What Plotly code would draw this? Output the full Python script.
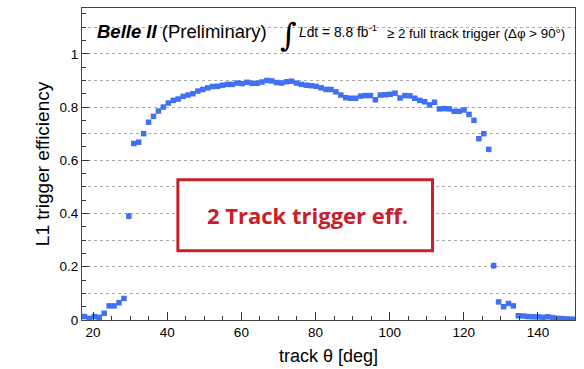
import plotly.graph_objects as go

# bin centres of track theta [deg] (100 bins, 17-150 deg)
theta = [
    17.67, 19.00, 20.33, 21.66, 22.99, 24.32, 25.65, 26.98, 28.31, 29.64,
    30.97, 32.30, 33.63, 34.96, 36.29, 37.62, 38.95, 40.28, 41.61, 42.94,
    44.27, 45.60, 46.93, 48.26, 49.59, 50.92, 52.25, 53.58, 54.91, 56.24,
    57.57, 58.90, 60.23, 61.56, 62.89, 64.22, 65.55, 66.88, 68.21, 69.54,
    70.87, 72.20, 73.53, 74.86, 76.19, 77.52, 78.85, 80.18, 81.51, 82.84,
    84.17, 85.50, 86.83, 88.16, 89.49, 90.82, 92.15, 93.48, 94.81, 96.14,
    97.47, 98.80, 100.13, 101.46, 102.79, 104.12, 105.45, 106.78, 108.11, 109.44,
    110.77, 112.10, 113.43, 114.76, 116.09, 117.42, 118.75, 120.08, 121.41, 122.74,
    124.07, 125.40, 126.73, 128.06, 129.39, 130.72, 132.05, 133.38, 134.71, 136.04,
    137.37, 138.70, 140.03, 141.36, 142.69, 144.02, 145.35, 146.68, 148.01, 149.34,
]

efficiency = [
    0.013, 0.006, 0.013, 0.010, 0.025, 0.053, 0.053, 0.065, 0.081, 0.390,
    0.663, 0.668, 0.700, 0.743, 0.765, 0.785, 0.800, 0.815, 0.825, 0.830,
    0.840, 0.845, 0.850, 0.860, 0.866, 0.872, 0.877, 0.878, 0.882, 0.885,
    0.885, 0.890, 0.888, 0.893, 0.889, 0.889, 0.894, 0.900, 0.898, 0.892,
    0.890, 0.895, 0.897, 0.890, 0.885, 0.882, 0.880, 0.878, 0.872, 0.866,
    0.866, 0.857, 0.845, 0.835, 0.833, 0.833, 0.841, 0.843, 0.843, 0.827,
    0.845, 0.846, 0.848, 0.852, 0.834, 0.843, 0.842, 0.833, 0.825, 0.820,
    0.808, 0.818, 0.793, 0.794, 0.793, 0.784, 0.784, 0.789, 0.772, 0.750,
    0.681, 0.700, 0.641, 0.204, 0.068, 0.050, 0.062, 0.053, 0.016, 0.015,
    0.013, 0.012, 0.012, 0.010, 0.012, 0.009, 0.006, 0.005, 0.004, 0.003,
]

eff_error = [
    0.003, 0.002, 0.003, 0.003, 0.004, 0.005, 0.005, 0.005, 0.006, 0.012,
    0.008, 0.007, 0.006, 0.005, 0.004, 0.004, 0.003, 0.003, 0.003, 0.003,
    0.003, 0.003, 0.003, 0.003, 0.003, 0.003, 0.003, 0.003, 0.003, 0.003,
    0.003, 0.003, 0.003, 0.003, 0.003, 0.003, 0.003, 0.003, 0.003, 0.003,
    0.003, 0.003, 0.003, 0.003, 0.003, 0.003, 0.003, 0.003, 0.003, 0.003,
    0.003, 0.003, 0.003, 0.003, 0.003, 0.003, 0.003, 0.003, 0.003, 0.003,
    0.003, 0.003, 0.003, 0.003, 0.003, 0.003, 0.003, 0.003, 0.003, 0.003,
    0.003, 0.003, 0.003, 0.003, 0.003, 0.003, 0.003, 0.003, 0.004, 0.005,
    0.006, 0.006, 0.008, 0.012, 0.006, 0.005, 0.005, 0.005, 0.003, 0.003,
    0.003, 0.003, 0.003, 0.002, 0.002, 0.002, 0.002, 0.002, 0.002, 0.002,
]

X_RANGE = [17, 150]
Y_RANGE = [0, 1.172]

BLUE = "#3f71f2"
RED = "#c8202a"
FONT = "Liberation Sans, Arial, sans-serif"

fig = go.Figure()
fig.add_trace(go.Scatter(
    x=theta, y=efficiency,
    mode="markers",
    marker=dict(symbol="square", size=5.5, color=BLUE, line=dict(width=0)),
    error_y=dict(type="data", array=eff_error, color=BLUE, thickness=1.5, width=0),
    showlegend=False, hoverinfo="x+y",
))
# invisible companion trace so the overlaid grid axis (y2) is drawn
fig.add_trace(go.Scatter(
    x=theta[:1], y=efficiency[:1], yaxis="y2", mode="markers",
    marker=dict(opacity=0), showlegend=False, hoverinfo="skip",
))

# red highlight box
fig.add_shape(type="rect", xref="paper", yref="paper",
              x0=0.1945, x1=0.711, y0=0.222, y1=0.4496,
              line=dict(color=RED, width=3), fillcolor="white", layer="above")

annotations = [
    dict(text="2 Track trigger eff.", x=0.458, y=0.335, xref="paper", yref="paper",
         showarrow=False, xanchor="center", yanchor="middle",
         font=dict(family="Open Sans, Lato, sans-serif", size=22, color=RED, weight="bold")),
    dict(text="<b><i>Belle II</i></b> (Preliminary)", x=0.026, y=0.925,
         xref="paper", yref="paper", showarrow=False, xanchor="left", yanchor="middle",
         font=dict(family=FONT, size=18.5, color="black")),
    dict(text="∫", x=0.398, y=0.915, xref="paper", yref="paper", showarrow=False,
         xanchor="left", yanchor="middle",
         font=dict(family="DejaVu Serif, serif", size=32, color="black")),
    dict(text="<i>L</i>dt = 8.8 fb<sup>-1</sup>", x=0.436, y=0.925,
         xref="paper", yref="paper", showarrow=False, xanchor="left", yanchor="middle",
         font=dict(family=FONT, size=13.8, color="black")),
    dict(text="≥ 2 full track trigger (Δφ > 90°)", x=0.614, y=0.918,
         xref="paper", yref="paper", showarrow=False, xanchor="left", yanchor="middle",
         font=dict(family=FONT, size=13.3, color="black")),
]

fig.update_layout(
    width=584, height=369,
    margin=dict(l=82, r=8.5, t=6.5, b=47.3),
    paper_bgcolor="white", plot_bgcolor="white",
    font=dict(family=FONT, size=13, color="black"),
    annotations=annotations,
    xaxis=dict(
        range=X_RANGE,
        tickmode="linear", tick0=0, dtick=20,
        ticks="inside", ticklen=8, tickcolor="#333", tickwidth=1,
        minor=dict(dtick=5, tick0=0, ticks="inside", ticklen=4, tickcolor="#333", showgrid=False),
        showgrid=False, zeroline=False,
        showline=True, linecolor="#444", linewidth=1.2, mirror=True,
        title=dict(text="track θ [deg]", font=dict(size=18, family=FONT), standoff=10),
        tickfont=dict(size=13.5),
    ),
    yaxis=dict(
        range=Y_RANGE,
        tickmode="linear", tick0=0, dtick=0.2,
        ticks="inside", ticklen=7, tickcolor="#333",
        minor=dict(dtick=0.05, tick0=0, ticks="inside", ticklen=4, tickcolor="#333", showgrid=False),
        showgrid=False, zeroline=False,
        showline=True, linecolor="#444", linewidth=1.2, mirror=True,
        title=dict(text="L1 trigger efficiency", font=dict(size=19, family=FONT), standoff=4),
        tickfont=dict(size=13.5),
    ),
    yaxis2=dict(
        range=Y_RANGE, overlaying="y", side="left",
        tickmode="linear", tick0=0, dtick=0.1,
        showticklabels=False, ticks="",
        showgrid=True, gridcolor="#aaaaaa", griddash="dot", gridwidth=1,
        zeroline=False, showline=False,
    ),
)

fig.write_html("out.html")
